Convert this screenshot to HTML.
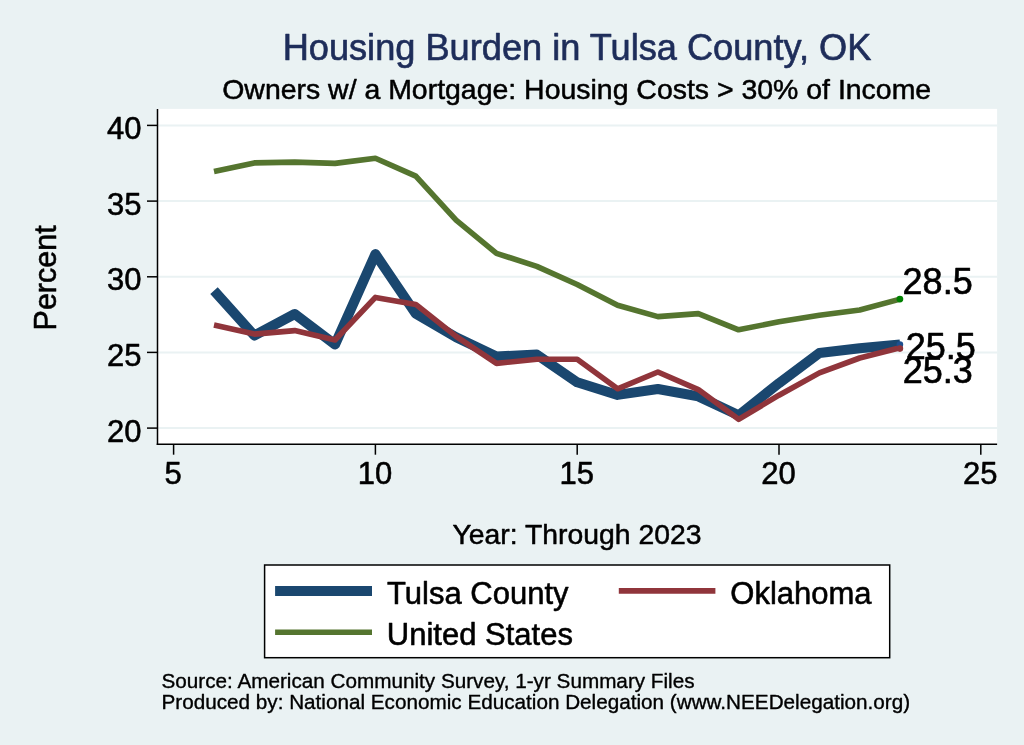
<!DOCTYPE html>
<html><head><meta charset="utf-8"><title>Housing Burden in Tulsa County, OK</title>
<style>
html,body{margin:0;padding:0;background:#eaf2f3;}
body{width:1024px;height:745px;overflow:hidden;}
svg{display:block;}
text{font-family:"Liberation Sans",Arial,Helvetica,sans-serif;fill:#000;stroke:#000;stroke-width:0.018em;stroke-linejoin:round;}
</style></head><body>
<svg width="1024" height="745" viewBox="0 0 1024 745">
<rect x="0" y="0" width="1024" height="745" fill="#eaf2f3"/>
<rect x="157.4" y="108.9" width="839.7" height="335.2" fill="#ffffff"/>
<g stroke="#eaf2f3" stroke-width="2">
<line x1="157.4" x2="997.1" y1="125.4" y2="125.4"/>
<line x1="157.4" x2="997.1" y1="201.1" y2="201.1"/>
<line x1="157.4" x2="997.1" y1="276.8" y2="276.8"/>
<line x1="157.4" x2="997.1" y1="352.4" y2="352.4"/>
<line x1="157.4" x2="997.1" y1="428.1" y2="428.1"/>
</g>
<g fill="none" stroke-linejoin="round" stroke-linecap="butt">
<polyline stroke="#1a476f" stroke-width="10" points="214.0,290.7 254.3,335.5 294.7,314.0 335.0,344.6 375.4,254.1 415.8,313.8 456.1,337.2 496.5,356.5 536.8,354.6 577.2,382.3 617.6,394.9 657.9,389.0 698.3,396.4 738.6,415.3 779.0,383.2 819.4,353.0 859.7,348.2 900.1,344.5"/>
<polyline stroke="#90353b" stroke-width="5.6" points="214.0,325.1 254.3,334.1 294.7,330.6 335.0,340.0 375.4,297.4 415.8,304.4 456.1,336.4 496.5,363.4 536.8,359.3 577.2,359.3 617.6,388.8 657.9,372.0 698.3,389.6 738.6,419.3 779.0,395.2 819.4,372.9 859.7,358.0 900.1,347.8"/>
<polyline stroke="#55752f" stroke-width="5.6" points="214.0,171.6 254.3,162.9 294.7,162.1 335.0,163.4 375.4,158.2 415.8,176.1 456.1,220.1 496.5,253.3 536.8,266.4 577.2,284.5 617.6,305.2 657.9,316.6 698.3,313.6 738.6,329.8 779.0,321.8 819.4,315.2 859.7,310.0 900.1,299.1"/>
</g>
<circle cx="899.9" cy="344.6" r="3.3" fill="#1d4f8f"/>
<circle cx="899.9" cy="348.6" r="3.3" fill="#90353b"/>
<circle cx="899.9" cy="299.1" r="3.4" fill="#008000"/>
<g stroke="#000" stroke-width="1.5" fill="none">
<line x1="157.5" x2="157.5" y1="108.9" y2="444.9"/>
<line x1="156.7" x2="997.1" y1="444.2" y2="444.2"/>
<line x1="147" x2="157.5" y1="125.4" y2="125.4"/>
<line x1="147" x2="157.5" y1="201.1" y2="201.1"/>
<line x1="147" x2="157.5" y1="276.8" y2="276.8"/>
<line x1="147" x2="157.5" y1="352.4" y2="352.4"/>
<line x1="147" x2="157.5" y1="428.1" y2="428.1"/>
<line x1="173.6" x2="173.6" y1="444.2" y2="454.7"/>
<line x1="375.4" x2="375.4" y1="444.2" y2="454.7"/>
<line x1="577.2" x2="577.2" y1="444.2" y2="454.7"/>
<line x1="779.0" x2="779.0" y1="444.2" y2="454.7"/>
<line x1="980.8" x2="980.8" y1="444.2" y2="454.7"/>
</g>
<g font-size="31px">
<text x="141.6" y="138.9" text-anchor="end">40</text>
<text x="141.6" y="214.6" text-anchor="end">35</text>
<text x="141.6" y="290.2" text-anchor="end">30</text>
<text x="141.6" y="365.9" text-anchor="end">25</text>
<text x="141.6" y="441.6" text-anchor="end">20</text>
<text x="173.1" y="484.1" text-anchor="middle">5</text>
<text x="374.9" y="484.1" text-anchor="middle">10</text>
<text x="576.7" y="484.1" text-anchor="middle">15</text>
<text x="778.5" y="484.1" text-anchor="middle">20</text>
<text x="980.3" y="484.1" text-anchor="middle">25</text>
</g>
<text x="577.0" y="59.5" text-anchor="middle" font-size="36.2px" style="fill:#1e2d5a;stroke:#1e2d5a">Housing Burden in Tulsa County, OK</text>
<text x="576.7" y="98.6" text-anchor="middle" font-size="28.45px">Owners w/ a Mortgage: Housing Costs &gt; 30% of Income</text>
<text transform="translate(55.9,277.9) rotate(-90)" text-anchor="middle" font-size="30.5px">Percent</text>
<text x="577" y="543.8" text-anchor="middle" font-size="28.35px">Year: Through 2023</text>
<g font-size="36px">
<text x="902.6" y="294.3">28.5</text>
<text x="905.8" y="359.4">25.5</text>
<text x="902.7" y="383.1">25.3</text>
</g>
<rect x="264.6" y="565" width="625.1" height="92.7" fill="#ffffff" stroke="#000" stroke-width="1.5"/>
<line x1="275.1" x2="372" y1="590.9" y2="590.9" stroke="#1a476f" stroke-width="10"/>
<line x1="618.8" x2="715.4" y1="590.9" y2="590.9" stroke="#90353b" stroke-width="5.6"/>
<line x1="275.1" x2="372" y1="632.2" y2="632.2" stroke="#55752f" stroke-width="5.6"/>
<g font-size="31px">
<text x="387" y="603.9">Tulsa County</text>
<text x="730.3" y="603.9">Oklahoma</text>
<text x="386.8" y="644.8">United States</text>
</g>
<g font-size="20.7px">
<text x="161.5" y="688.4">Source: American Community Survey, 1-yr Summary Files</text>
<text x="161.5" y="709.0">Produced by: National Economic Education Delegation (www.NEEDelegation.org)</text>
</g>
</svg>
</body></html>
